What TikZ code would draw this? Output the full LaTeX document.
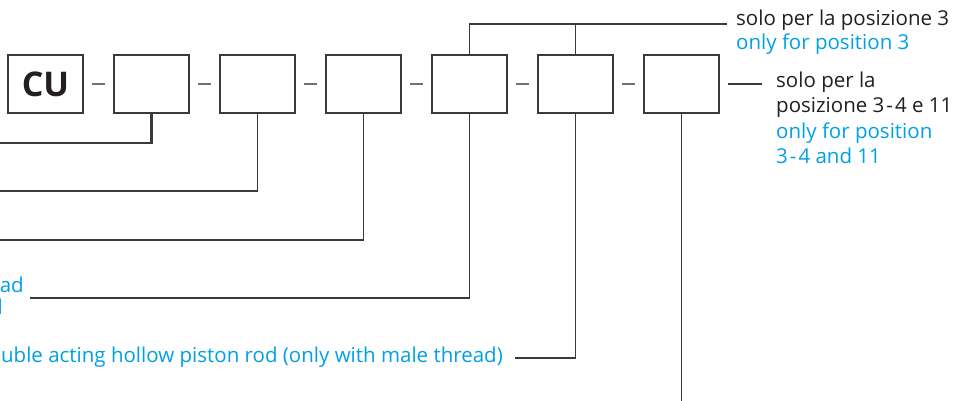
\documentclass[tikz,border=0pt]{standalone}
\usepackage{fontspec}
\setmainfont{Open Sans}
\definecolor{ink}{HTML}{231F20}
\definecolor{sky}{HTML}{00A0E3}
\definecolor{frame}{HTML}{3A3A3A}
\definecolor{tick}{HTML}{707070}
\newcommand{\rng}{\kern2pt-\kern2pt}
\begin{document}
\begin{tikzpicture}[x=1pt,y=-1pt,
  box/.style={draw=frame, line width=1.4pt, minimum width=75pt, minimum height=58pt, inner sep=0pt},
  link/.style={draw=tick, line width=1.4pt, shorten <=8.5pt, shorten >=8.5pt},
  lead/.style={draw=frame, line width=1.3pt},
  heavy/.style={draw=frame, line width=2.8pt},
  label/.style={font=\fontsize{20.5}{25}\selectfont, inner sep=0pt, text=ink},
  note/.style={label, text=sky}]
\useasboundingbox (0,0) rectangle (968,401);

% code boxes
\node[box, font=\fontsize{34}{34}\selectfont\bfseries, text=ink] (b1) at (45.5,84) {CU};
\foreach \i/\x in {2/151.5,3/257.5,4/363.5,5/469.5,6/575.5,7/681.5}
  \node[box] (b\i) at (\x,84) {};

% separators between boxes
\coordinate (s0) at (-40,84);
\draw[link] (s0) -- (b1.west);
\foreach \a/\b in {1/2,2/3,3/4,4/5,5/6,6/7}
  \draw[link] (b\a.east) -- (b\b.west);

% right-hand notes
\node[label, anchor=base west] (n1) at (736,26) {solo per la posizione 3};
\node[note, anchor=base west] (n1e) at (736,50) {only for position 3};
\node[label, anchor=base west] (n2) at (776,88) {solo per la};
\node[label, anchor=base west] (n2b) at (776,113) {posizione 3\rng4 e 11};
\node[note, anchor=base west] (n2e) at (776,138) {only for position};
\node[note, anchor=base west] (n2f) at (776,163) {3\rng4 and 11};

\coordinate (top) at (727,24);
\draw[lead] (b5.north) |- (top);
\draw[lead] (b6.north) -- (b6.north |- top);
\coordinate (r7) at (762,84);
\draw[lead] (b7.east) ++(8,0) -- (r7);

% leaders down to the option texts
\coordinate (e2) at (-2,143);
\coordinate (e3) at (-2,191);
\coordinate (e4) at (-2,240);
\coordinate (e5) at (30,298);
\coordinate (e6) at (515,358);
\coordinate (e7) at (681.5,405);
\draw[heavy] (b2.south) |- (e2);
\draw[lead] (b3.south) |- (e3);
\draw[lead] (b4.south) |- (e4);
\draw[lead] (b5.south) |- (e5);
\draw[lead] (b6.south) |- (e6);
\draw[lead] (b7.south) -- (e7);

\node[note, anchor=base east] (o5a) at (24,292) {with female thread};
\node[note, anchor=base east] (o5b) at (3,314) {stainless steel};
\node[note, anchor=base east] (o6) at (503,362) {Double acting hollow piston rod (only with male thread)};
\end{tikzpicture}
\end{document}
